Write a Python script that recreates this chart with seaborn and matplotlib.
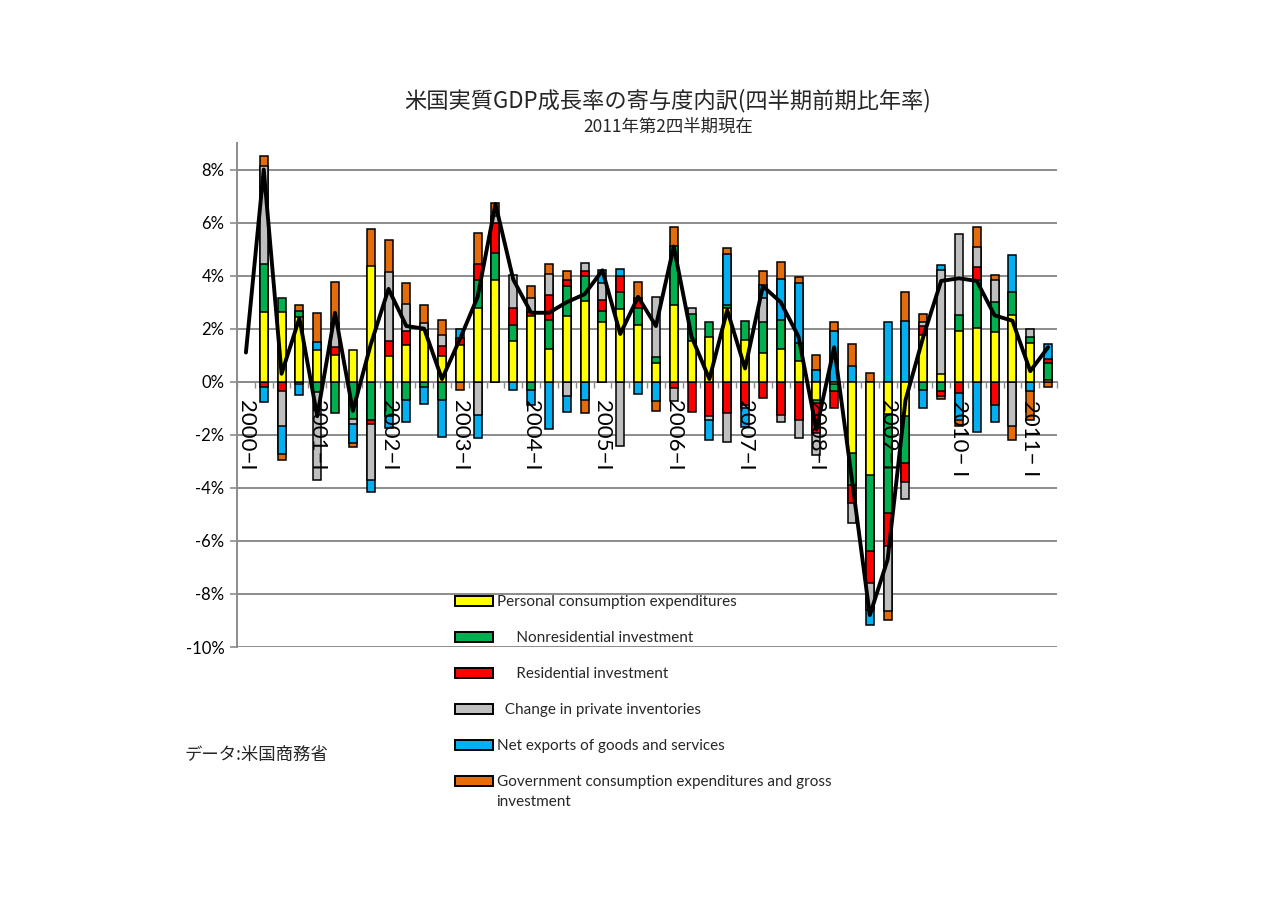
import numpy as np
import matplotlib
matplotlib.use("Agg")
import matplotlib.pyplot as plt
import seaborn as sns
from matplotlib.patches import Patch
from matplotlib.ticker import FixedLocator, FuncFormatter

# ---------------- data (contributions to real GDP growth, % pts, SAAR) ----------------
years = ["2000", "2001", "2002", "2003", "2004", "2005", "2006", "2007", "2008", "2009", "2010", "2011"]
qnames = ["I", "II", "III", "IV"]
quarters = [f"{y}-{q}" for y in years for q in qnames][:46]

tick_pos = [0, 4, 8, 12, 16, 20, 24, 28, 32, 36, 40, 44]
tick_labels = ["2000\u2212I", "2001\u2212I", "2002\u2212I", "2003\u2212I", "2004\u2212I", "2005\u2212I",
               "2006\u2212I", "2007\u2212I", "2008\u2212I", "2009\u2212I", "2010\u2212 I", "2011\u2212 I"]

pce = [np.nan, 2.62, 2.62, 2.45, 1.2, 1.0, 1.2, 4.35, 0.96, 1.4, 1.96, 0.96, 1.4, 2.78, 3.85, 1.52,
       2.47, 1.25, 2.47, 3.03, 2.24, 2.74, 2.13, 0.7, 2.9, 1.52, 1.67, 2.78, 1.56, 1.08, 1.25, 0.8,
       -0.68, -0.1, -2.67, -3.51, -1.2, -1.3, 1.77, 0.3, 1.92, 2.03, 1.86, 2.5, 1.46, 0.08]
nonres = [np.nan, 1.8, 0.52, 0.2, -0.4, -1.18, -1.4, -1.45, -1.3, -0.68, -0.18, -0.68, 0.0, 1.07, 1.0, 0.63,
          -0.3, 1.09, 1.13, 0.94, 0.42, 0.63, 0.65, 0.25, 2.2, 1.03, 0.58, 0.13, 0.74, 1.19, 1.07, 0.65,
          -0.12, -0.25, -1.22, -2.86, -3.75, -1.77, -0.3, -0.36, 0.6, 1.82, 1.14, 0.87, 0.23, 0.63]
resid = [np.nan, -0.18, -0.36, 0.0, 0.0, 0.3, 0.0, -0.15, 0.57, 0.53, 0.0, 0.38, 0.25, 0.57, 1.15, 0.63,
         0.15, 0.92, 0.25, 0.19, 0.44, 0.6, 0.38, 0.0, -0.24, -1.14, -1.31, -1.18, -0.87, -0.62, -1.27, -1.43,
         -1.15, -0.65, -0.69, -1.23, -1.26, -0.7, 0.34, -0.16, -0.43, 0.48, -0.87, 0.0, 0.0, 0.13]
invent = [np.nan, 3.7, -1.32, -0.1, -3.3, 0.9, -0.2, -2.1, 2.6, 1.0, 0.25, 0.44, 0.0, -1.25, 0.25, 1.26,
          0.54, 0.82, -0.55, 0.31, 0.63, -2.42, 0.0, 2.26, -0.47, 0.23, -0.13, -1.09, -0.13, 0.88, -0.23, -0.69,
          -0.8, 0.0, -0.73, -1.0, -2.45, -0.66, 0.15, 3.92, 3.04, 0.75, 0.84, -1.66, 0.31, 0.0]
netexp = [np.nan, -0.57, -1.03, -0.4, 0.31, 0.0, -0.7, -0.45, -0.45, -0.82, -0.67, -1.41, 0.35, -0.88, 0.0, -0.3,
          -0.57, -1.79, -0.6, -0.68, 0.48, 0.28, -0.45, -0.74, 0.0, 0.0, -0.75, 1.92, -0.7, 0.5, 1.56, 2.29,
          0.43, 1.9, 0.6, -0.57, 2.24, 2.3, -0.69, 0.19, -1.0, -1.91, -0.63, 1.42, -0.36, 0.6]
govt = [np.nan, 0.4, -0.25, 0.25, 1.1, 1.55, -0.15, 1.4, 1.21, 0.79, 0.67, 0.53, -0.3, 1.2, 0.5, 0.0,
        0.44, 0.34, 0.31, -0.48, 0.0, 0.0, 0.59, -0.38, 0.73, 0.0, 0.0, 0.21, 0.0, 0.54, 0.63, 0.2,
        0.59, 0.35, 0.82, 0.33, -0.31, 1.1, 0.29, -0.13, -0.23, 0.75, 0.19, -0.55, -1.1, -0.2]
gdp = [1.1, 8.0, 0.3, 2.4, -1.3, 2.6, -1.1, 1.4, 3.5, 2.1, 2.0, 0.1, 1.6, 3.2, 6.7, 3.85,
       2.6, 2.6, 3.0, 3.3, 4.2, 1.8, 3.2, 2.1, 5.1, 1.7, 0.1, 2.7, 0.5, 3.6, 3.0, 1.7,
       -1.8, 1.3, -3.7, -8.8, -6.7, -0.7, 1.7, 3.8, 3.9, 3.8, 2.5, 2.3, 0.4, 1.3]

series_labels = ["Personal consumption expenditures",
                 "     Nonresidential investment",
                 "     Residential investment",
                 "  Change in private inventories",
                 "Net exports of goods and services",
                 "Government consumption expenditures and gross"]
colors = ["#FFFF00", "#00B050", "#FF0000", "#BFBFBF", "#00B0F0", "#E46C0A"]

title = "米国実質GDP成長率の寄与度内訳(四半期前期比年率)"
subtitle = "2011年第2四半期現在"
source = "データ:米国商務省"

# ---------------- figure ----------------
sns.set_theme(style="white")
plt.rcParams['font.family'] = ['Lato', 'Noto Sans CJK JP', 'DejaVu Sans']
plt.rcParams['axes.unicode_minus'] = False

W, H = 1280, 905
fig = plt.figure(figsize=(12.8, 9.05), dpi=100, facecolor="white")
ax = fig.add_axes([237 / W, (H - 647) / H, 820 / W, (647 - 143) / H])

arr = np.array([pce, nonres, resid, invent, netexp, govt], dtype=float)
arr0 = np.nan_to_num(arr)
pos = np.where(arr0 > 0, arr0, 0.0)
neg = np.where(arr0 < 0, arr0, 0.0)
cum_pos = np.cumsum(pos, axis=0)
cum_neg = np.cumsum(neg, axis=0)

# stacked bars drawn from outermost layer inward (each inner layer covers the outer one)
for k in reversed(range(6)):
    for cum, part in ((cum_pos, pos), (cum_neg, neg)):
        h = np.where(part[k] != 0, cum[k], np.nan)
        sns.barplot(x=quarters, y=h, order=quarters, color=colors[k], saturation=1,
                    width=0.45, edgecolor="black", linewidth=1.1, errorbar=None, ax=ax)

sns.lineplot(x=np.arange(len(gdp)), y=gdp, color="black", linewidth=2.8, ax=ax, zorder=5)

# ---------------- axes styling ----------------
ax.set_xlim(-0.5, 45.5)
ax.set_ylim(-10, 9)
ax.set_xlabel("")
ax.set_ylabel("")

ax.yaxis.set_major_locator(FixedLocator(list(range(-10, 9, 2))))
ax.yaxis.set_major_formatter(FuncFormatter(lambda v, p: f"{v:.0f}%"))
ax.yaxis.grid(True, color="#8C8C8C", linewidth=1.4)
ax.xaxis.grid(False)

ax.xaxis.set_major_locator(FixedLocator(tick_pos))
ax.set_xticklabels(tick_labels)
ax.xaxis.set_minor_locator(FixedLocator(list(np.arange(-0.5, 46, 1.0))))

ax.tick_params(axis="x", which="major", bottom=True, length=0, pad=13, labelrotation=-90,
               labelsize=16, labelcolor="black")
ax.tick_params(axis="x", which="minor", bottom=True, length=4, width=1, color="#8C8C8C",
               direction="out")
ax.tick_params(axis="y", which="major", left=True, length=5, width=1.2, color="#8C8C8C",
               direction="out", labelsize=12, pad=4, labelcolor="black")
for lab in ax.get_xticklabels():
    lab.set_fontfamily(["Liberation Serif", "DejaVu Serif"])
    lab.set_va("top")

for s in ("top", "right"):
    ax.spines[s].set_visible(False)
ax.spines["left"].set_color("#8C8C8C")
ax.spines["left"].set_linewidth(1.4)
ax.spines["bottom"].set_position(("data", 0))
ax.spines["bottom"].set_color("#8C8C8C")
ax.spines["bottom"].set_linewidth(1.4)
ax.spines["bottom"].set_zorder(0.6)
ax.yaxis.set_zorder(0.5)
ax.xaxis.set_zorder(2.6)
ax.set_facecolor("white")

# ---------------- legend ----------------
handles = [Patch(facecolor=c, edgecolor="black", linewidth=1.4) for c in colors]
leg = ax.legend(handles, series_labels, loc="upper left",
                bbox_to_anchor=(455 / W, 1 - 595 / H), bbox_transform=fig.transFigure,
                frameon=False, handlelength=2.5, handleheight=0.65, handletextpad=0.25,
                labelspacing=1.44, borderpad=0, borderaxespad=0,
                prop={"family": ["Lato", "DejaVu Sans"], "size": 11})
leg.set_zorder(10)
fig.text(496 / W, 1 - 802 / H, "investment", ha="left", va="center",
         fontsize=11, family=["Lato", "DejaVu Sans"])

# ---------------- titles & note ----------------
fig.text(668 / W, 1 - 101 / H, title, ha="center", va="center", fontsize=16,
         family=["Noto Sans CJK JP", "DejaVu Sans"])
fig.text(668 / W, 1 - 127 / H, subtitle, ha="center", va="center", fontsize=12.5,
         family=["Noto Sans CJK JP", "DejaVu Sans"])
fig.text(185 / W, 1 - 755 / H, source, ha="left", va="center", fontsize=12.5,
         family=["Noto Sans CJK JP", "DejaVu Sans"])

fig.savefig("out.png", dpi=100, facecolor="white")
